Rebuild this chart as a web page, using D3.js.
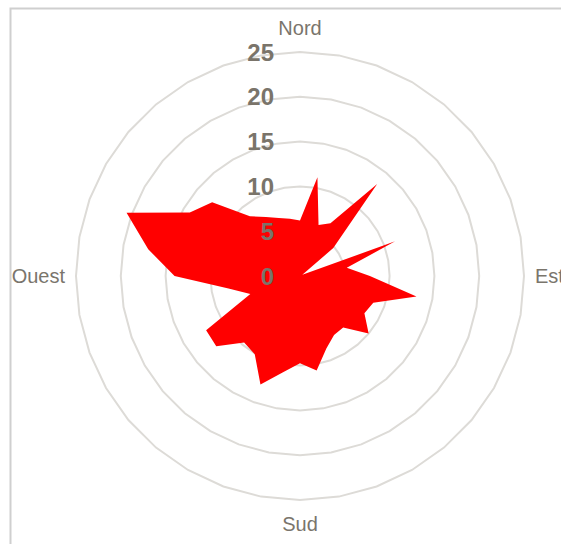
<!DOCTYPE html>
<html>
<head>
<meta charset="utf-8">
<script src="https://cdn.jsdelivr.net/npm/d3@7"></script>
<style>
  html, body { margin: 0; padding: 0; background: #fff; }
  svg { display: block; }
</style>
</head>
<body>
<svg id="chart" width="561" height="544"></svg>
<script>
// Wind directions in degrees (clockwise from north) and the frequency for each sector
const directions = [0, 10, 20, 30, 40, 50, 60, 70, 80, 90, 100, 110, 120, 130, 140, 150, 160, 170,
                    180, 190, 200, 210, 220, 230, 240, 250, 260, 270, 280, 290, 300, 310, 320, 330, 340, 350];
const frequencies = [6.2, 11.2, 6.05, 6.8, 13.4, 4.85, 0.3, 11.3, 5.3, 7.8, 13.2, 8.7,
                     8.3, 10.0, 7.5, 7.6, 8.6, 10.7, 9.75, 10.9, 12.9, 10.1, 9.7, 12.2,
                     12.1, 5.9, 8.1, 14.0, 17.2, 20.6, 14.2, 12.8, 8.7, 7.6, 6.9, 6.5];
const ringTicks = [0, 5, 10, 15, 20, 25];
const cardinalLabels = ["Nord", "Est", "Sud", "Ouest"];
const cardinalAngles = [0, 90, 180, 270];

const svg = d3.select("#chart");
const cx = 300, cy = 276;

const angle = d3.scaleLinear().domain([0, 360]).range([0, 2 * Math.PI]);
const radius = d3.scaleLinear().domain([0, 25]).range([0, 224]);

// Frame
svg.append("path")
  .attr("d", "M10.5,544 L10.5,8.5 L561,8.5")
  .attr("fill", "none")
  .attr("stroke", "#cfcfcf")
  .attr("stroke-width", 2);

const g = svg.append("g").attr("transform", `translate(${cx},${cy})`);

// Grid rings: polygons through every direction
const ringLine = d3.lineRadial()
  .angle(d => angle(d))
  .curve(d3.curveLinearClosed);

g.append("g").selectAll("path")
  .data(ringTicks.filter(t => t > 0))
  .join("path")
  .attr("d", t => ringLine.radius(radius(t))(directions))
  .attr("fill", "none")
  .attr("stroke", "#dddbd7")
  .attr("stroke-width", 2);

// Frequency area
const records = directions.map((dir, i) => ({ dir, value: frequencies[i] }));
const areaLine = d3.lineRadial()
  .angle(d => angle(d.dir))
  .radius(d => radius(d.value))
  .curve(d3.curveLinearClosed);

g.append("path")
  .datum(records)
  .attr("d", areaLine)
  .attr("fill", "#ff0000");

// Radial tick labels along the north axis
g.append("g").selectAll("text")
  .data(ringTicks)
  .join("text")
  .attr("x", -26)
  .attr("y", t => -radius(t))
  .attr("text-anchor", "end")
  .attr("dominant-baseline", "central")
  .attr("font-family", "'Liberation Sans Narrow', 'Arial Narrow', 'Liberation Sans', sans-serif")
  .attr("font-weight", "bold")
  .attr("font-size", 24)
  .attr("fill", "#7a746a")
  .text(t => t);

// Cardinal direction labels
g.append("g").selectAll("text")
  .data(cardinalLabels.map((name, i) => ({ name, a: cardinalAngles[i] })))
  .join("text")
  .each(function (d) {
    const a = angle(d.a);
    const r = 235 + 13 * Math.abs(Math.cos(a));
    d3.select(this)
      .attr("x", r * Math.sin(a))
      .attr("y", -r * Math.cos(a))
      .attr("text-anchor", d.a === 90 ? "start" : d.a === 270 ? "end" : "middle");
  })
  .attr("dominant-baseline", "central")
  .attr("font-family", "'Liberation Sans', Arial, sans-serif")
  .attr("font-size", 20)
  .attr("fill", "#7a756c")
  .text(d => d.name);
</script>
</body>
</html>
